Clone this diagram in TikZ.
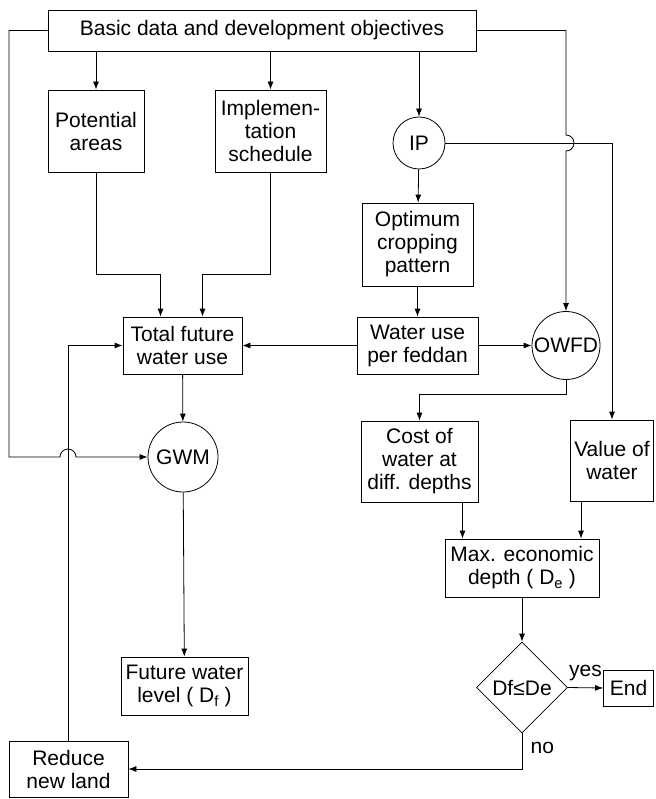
\documentclass[tikz,border=0pt]{standalone}
\usepackage{fontspec}
\setmainfont{Liberation Sans}
\usetikzlibrary{arrows.meta,shapes.geometric}

\begin{document}
\begin{tikzpicture}[x=1pt,y=1pt,line width=0.8pt,
		>={Latex[length=8pt,width=6pt]},
		font=\fontsize{21}{23}\selectfont,
		block/.style={draw,align=center,inner sep=0pt},
		round/.style={draw,circle,inner sep=0pt},
		decide/.style={draw,diamond,inner sep=0pt,minimum width=91pt,minimum height=91pt}]
		\useasboundingbox (0,0) rectangle (655,-799);
		\node[block,minimum width=428pt,minimum height=41pt] (basic) at (262,-30.5) {Basic data and development objectives};
		\node[block,minimum width=96pt,minimum height=82pt] (potential) at (96,-131) {Potential\\areas};
		\node[block,minimum width=111pt,minimum height=82pt] (impl) at (270.5,-131) {Implemen-\\tation\\schedule};
		\node[round,minimum size=52pt] (ip) at (419,-143) {IP};
		\node[block,minimum width=111pt,minimum height=83pt] (optimum) at (417.5,-244.5) {Optimum\\cropping\\pattern};
		\node[block,minimum width=119pt,minimum height=57pt] (total) at (182.5,-345.5) {Total future\\water use};
		\node[block,minimum width=121pt,minimum height=57pt] (wateruse) at (417.5,-345.5) {Water use\\per feddan};
		\node[round,minimum size=68pt] (owfd) at (566,-345.5) {OWFD};
		\node[round,minimum size=70pt] (gwm) at (183,-457) {GWM};
		\node[block,minimum width=117pt,minimum height=81pt] (cost) at (419.5,-461.5) {Cost of\\water at\\diff. depths};
		\node[block,minimum width=83pt,minimum height=81pt] (value) at (612,-460.5) {Value of\\water};
		\node[block,minimum width=154pt,minimum height=58pt] (max) at (522,-568) {Max. economic\\depth ( D\textsubscript{e} )};
		\node[decide] (dec) at (522,-687.5) {Df≤De};
		\node[block,minimum width=50pt,minimum height=36pt] (end) at (628.5,-688) {End};
		\node[block,minimum width=127pt,minimum height=58pt] (future) at (184.5,-686) {Future water\\level ( D\textsubscript{f} )};
		\node[block,minimum width=119pt,minimum height=56pt] (reduce) at (68.5,-769) {Reduce\\new land};

		\draw[->] (potential.north |- basic.south) -- (potential.north);
		\draw[->] (impl.north |- basic.south) -- (impl.north);
		\draw[->] (ip.north |- basic.south) -- (ip.north);
		\draw[->] (basic.east) -| (566,-135) arc (90:-90:8) -- (owfd.north);
		\draw[->] (ip.east) -| (value.north);
		\draw[->] (ip) -- (optimum);
		\draw[->] (optimum) -- (wateruse);
		\draw[->] (wateruse) -- (total);
		\draw[->] (wateruse) -- (owfd);
		\draw[->] (potential.south) -- ++(0,-102) -| ([xshift=-22pt]total.north);
		\draw[->] (impl.south) -- ++(0,-102) -| ([xshift=20pt]total.north);
		\draw[->] (total) -- (gwm);
		\draw[->] (basic.west) -| (9,-457) -- (60,-457) arc (180:0:8) -- (gwm.west);
		\draw[->] (gwm) -- (future);
		\draw[->] (owfd.south) -- ++(0,-14) -| (cost.north);
		\draw[->] ([xshift=43pt]cost.south) -- ([xshift=43pt]cost.south |- max.north);
		\draw[->] ([xshift=-31pt]value.south) -- ([xshift=-31pt]value.south |- max.north);
		\draw[->] (max) -- (dec);
		\draw[->] (dec.east) -- (end.west) node[midway,above=3pt] {yes};
		\draw[->] (dec.south) |- (reduce.east) node[pos=0.2,right=5pt] {no};
		\draw[->] (reduce.north) |- (total.west);
	\end{tikzpicture}
\end{document}
